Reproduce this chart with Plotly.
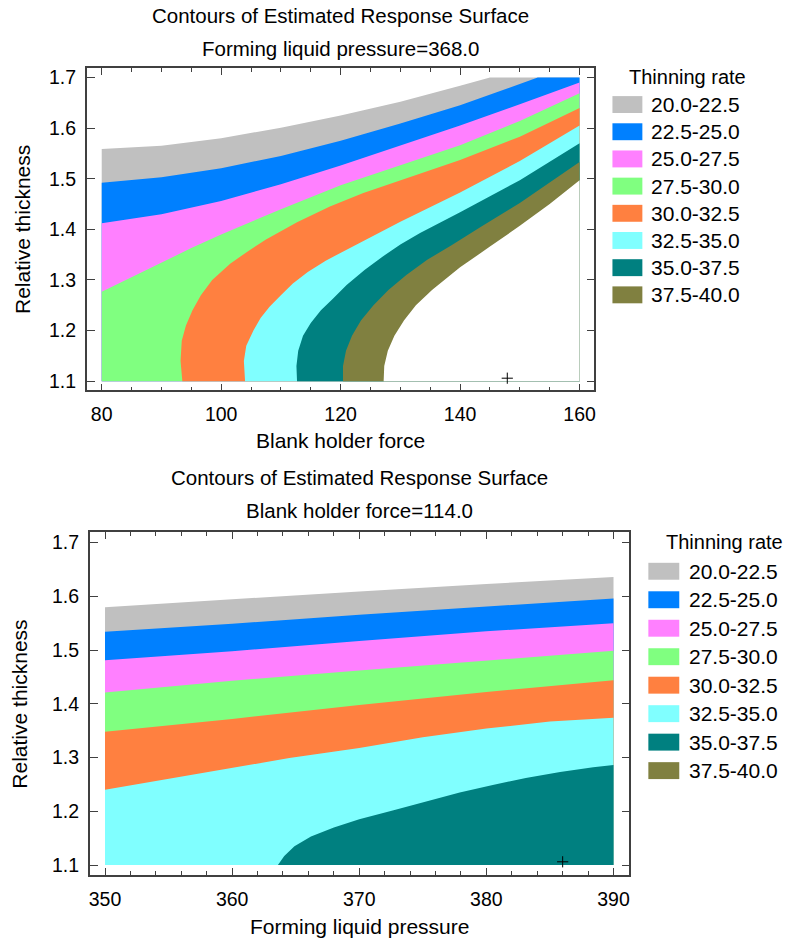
import plotly.graph_objects as go

# ---------------- data ----------------
LEVELS = [20.0, 22.5, 25.0, 27.5, 30.0, 32.5, 35.0, 37.5, 40.0]
BAND_LABELS = ["20.0-22.5", "22.5-25.0", "25.0-27.5", "27.5-30.0",
               "30.0-32.5", "32.5-35.0", "35.0-37.5", "37.5-40.0"]
BAND_COLORS = ["#C0C0C0", "#0080FF", "#FF80FF", "#80FF80",
               "#FF8040", "#80FFFF", "#008080", "#808040"]
ABOVE_COLOR = "#FFFFFF"

# top panel: Blank holder force (x) vs Relative thickness (y), pressure = 368.0
TOP_X_RANGE = [80, 160]
TOP_Y_RANGE = [1.1, 1.7]
top_x_20 = [80, 90, 100, 110, 120, 130, 140, 145]
top_y_20 = [1.559, 1.565, 1.580, 1.601, 1.625, 1.652, 1.684, 1.700]
top_x_225 = [80, 90, 100, 110, 120, 130, 140, 150, 153]
top_y_225 = [1.492, 1.503, 1.521, 1.545, 1.575, 1.609, 1.645, 1.687, 1.700]
top_x_25 = [80, 90, 100, 110, 120, 130, 140, 150, 160]
top_y_25 = [1.412, 1.430, 1.456, 1.489, 1.526, 1.566, 1.605, 1.647, 1.690]
top_x_275 = [80, 85, 90, 95, 100, 110, 120, 130, 140, 150, 160]
top_y_275 = [1.277, 1.306, 1.335, 1.363, 1.390, 1.440, 1.487, 1.527, 1.566, 1.614, 1.669]
top_x_30 = [93.5, 93.2, 93.4, 94.1, 95.2, 96.6, 98.5, 101.5, 104.5, 107.5, 112.7, 118.2,
            123.8, 129.4, 135, 140, 150, 160]
top_y_30 = [1.1, 1.14, 1.18, 1.21, 1.24, 1.27, 1.30, 1.332, 1.357, 1.380, 1.414, 1.445,
            1.472, 1.495, 1.517, 1.537, 1.583, 1.640]
top_x_325 = [104, 103.8, 104.2, 105.4, 106.6, 108.1, 110, 112, 114.5, 117.5, 121, 125,
             130, 140, 150, 160]
top_y_325 = [1.1, 1.14, 1.17, 1.2, 1.225, 1.247, 1.27, 1.293, 1.316, 1.338, 1.36, 1.385,
             1.415, 1.473, 1.535, 1.605]
top_x_35 = [112.7, 112.6, 112.9, 113.7, 115, 116.7, 118.7, 121, 124, 127, 130, 133.3,
            140, 150, 160]
top_y_35 = [1.1, 1.13, 1.16, 1.19, 1.215, 1.24, 1.263, 1.29, 1.32, 1.346, 1.37, 1.393,
            1.434, 1.497, 1.570]
top_x_375 = [120.4, 120.4, 120.9, 121.9, 123.4, 125.5, 128, 131, 134.5, 138.5, 143.5,
             150, 160]
top_y_375 = [1.1, 1.13, 1.16, 1.19, 1.22, 1.25, 1.28, 1.31, 1.34, 1.368, 1.405,
             1.452, 1.533]
top_x_40 = [127.2, 127.3, 127.9, 129, 130.6, 132.6, 135.3, 138.4, 140, 145, 150, 155, 160]
top_y_40 = [1.1, 1.13, 1.16, 1.19, 1.22, 1.25, 1.28, 1.31, 1.325, 1.366, 1.407, 1.45, 1.497]
TOP_DESIGN_X = [147.9]
TOP_DESIGN_Y = [1.106]

# bottom panel: Forming liquid pressure (x) vs Relative thickness (y), force = 114.0
BOT_X_RANGE = [350, 390]
BOT_Y_RANGE = [1.1, 1.7]
bot_x_20 = [350, 360, 370, 380, 390]
bot_y_20 = [1.580, 1.595, 1.609, 1.623, 1.636]
bot_x_225 = [350, 360, 370, 380, 390]
bot_y_225 = [1.534, 1.549, 1.566, 1.581, 1.596]
bot_x_25 = [350, 360, 370, 380, 390]
bot_y_25 = [1.481, 1.498, 1.517, 1.535, 1.550]
bot_x_275 = [350, 360, 370, 380, 390]
bot_y_275 = [1.421, 1.443, 1.462, 1.481, 1.499]
bot_x_30 = [350, 360, 370, 380, 390]
bot_y_30 = [1.348, 1.372, 1.398, 1.422, 1.444]
bot_x_325 = [350, 352.7, 356.6, 360, 364.5, 370, 375, 380, 385, 390]
bot_y_325 = [1.240, 1.251, 1.268, 1.282, 1.299, 1.318, 1.338, 1.354, 1.367, 1.374]
bot_x_35 = [363.6, 364.1, 364.9, 366.2, 368, 370, 372.7, 375.3, 377.9, 380.5, 383.1,
            385.8, 388.4, 390]
bot_y_35 = [1.1, 1.117, 1.135, 1.153, 1.170, 1.185, 1.202, 1.219, 1.235, 1.249, 1.262,
            1.273, 1.282, 1.286]
BOT_DESIGN_X = [386.0]
BOT_DESIGN_Y = [1.106]

TOP_CURVES = [(top_x_20, top_y_20), (top_x_225, top_y_225), (top_x_25, top_y_25),
              (top_x_275, top_y_275), (top_x_30, top_y_30), (top_x_325, top_y_325),
              (top_x_35, top_y_35), (top_x_375, top_y_375), (top_x_40, top_y_40)]
BOT_CURVES = [(bot_x_20, bot_y_20), (bot_x_225, bot_y_225), (bot_x_25, bot_y_25),
              (bot_x_275, bot_y_275), (bot_x_30, bot_y_30), (bot_x_325, bot_y_325),
              (bot_x_35, bot_y_35)]

# ---------------- helpers ----------------
W, H = 787, 941
FONT = "Arial, Liberation Sans, sans-serif"


def px(v):
    return v / W


def py(v):
    return 1 - v / H


def region_at_or_above(cx, cy, xr, yr):
    """Polygon of the area where the response >= level (lower-right side of the curve)."""
    xs, ys = list(cx), list(cy)
    x0, x1 = xr
    y0, y1 = yr
    if ys[-1] >= y1 and xs[-1] < x1:
        xs.append(x1); ys.append(y1)
    xs.append(x1); ys.append(y0)
    if xs[0] <= x0 and ys[0] > y0:
        xs.append(x0); ys.append(y0)
    xs.append(xs[0]); ys.append(ys[0])
    return xs, ys


fig = go.Figure()


def add_panel(curves, xr, yr, xa, ya, dx, dy):
    for k, (cx, cy) in enumerate(curves):
        color = BAND_COLORS[k] if k < len(BAND_COLORS) else ABOVE_COLOR
        xs, ys = region_at_or_above(cx, cy, xr, yr)
        fig.add_trace(go.Scatter(x=xs, y=ys, mode="lines", fill="toself",
                                 fillcolor=color, line=dict(width=0, color=color),
                                 hoverinfo="skip", showlegend=False,
                                 xaxis=xa, yaxis=ya))
    fig.add_trace(go.Scatter(x=dx, y=dy, mode="markers",
                             marker=dict(symbol="cross-thin", size=8,
                                         line=dict(width=1, color="black")),
                             showlegend=False, xaxis=xa, yaxis=ya))


add_panel(TOP_CURVES, TOP_X_RANGE, TOP_Y_RANGE, "x", "y", TOP_DESIGN_X, TOP_DESIGN_Y)
add_panel(BOT_CURVES, BOT_X_RANGE, BOT_Y_RANGE, "x2", "y2", BOT_DESIGN_X, BOT_DESIGN_Y)

AX_COLOR = "#404040"
tickfont = dict(family=FONT, size=19.5, color="black")
common_x = dict(showline=True, linecolor=AX_COLOR, linewidth=1.5, mirror="ticks",
                ticks="inside", ticklen=7, tickwidth=1, tickcolor=AX_COLOR,
                showgrid=False, zeroline=False, tickfont=tickfont,
                ticklabelstandoff=6)
common_y = dict(showline=True, linecolor=AX_COLOR, linewidth=1.5, mirror="ticks",
                ticks="inside", ticklen=8, tickwidth=1, tickcolor=AX_COLOR,
                showgrid=False, zeroline=False, tickfont=tickfont,
                tickformat=".1f", dtick=0.1, tick0=1.1, ticklabelstandoff=5)

fig.update_layout(
    width=W, height=H, margin=dict(l=0, r=0, t=0, b=0),
    paper_bgcolor="white", plot_bgcolor="white", showlegend=False,
    xaxis=dict(domain=[px(86), px(595)], range=[77.5, 162.5], anchor="y",
               tick0=80, dtick=20,
               minor=dict(dtick=5, tick0=80, ticks="inside", ticklen=4,
                          tickcolor=AX_COLOR, showgrid=False),
               **common_x),
    yaxis=dict(domain=[py(390), py(66.7)], range=[1.082, 1.718], anchor="x",
               **common_y),
    xaxis2=dict(domain=[px(89), px(630)], range=[348.8, 391.25], anchor="y2",
                tick0=350, dtick=10,
                minor=dict(dtick=2, tick0=350, ticks="inside", ticklen=4,
                           tickcolor=AX_COLOR, showgrid=False),
                **common_x),
    yaxis2=dict(domain=[py(876.7), py(532.7)], range=[1.0815, 1.719], anchor="x2",
                **common_y),
)

ann = []


def text(t, x, y, size=21, xanchor="center", angle=0):
    ann.append(dict(text=t, x=px(x), y=py(y), xref="paper", yref="paper",
                    xanchor=xanchor, yanchor="middle", showarrow=False,
                    textangle=angle, font=dict(family=FONT, size=size, color="black")))


# titles
text("Contours of Estimated Response Surface", 340.5, 14, size=20.5)
text("Forming liquid pressure=368.0", 340.5, 47, size=20.5)
text("Contours of Estimated Response Surface", 359.5, 478, size=20.5)
text("Blank holder force=114.0", 359.5, 511, size=20.5)
# axis titles
text("Blank holder force", 340.5, 440)
text("Relative thickness", 21, 228, angle=-90)
text("Forming liquid pressure", 359.5, 928)
text("Relative thickness", 19, 704.7, angle=-90)

shapes = []


def legend(title_x, title_y, sw_x0, sw_x1, first_y, step, text_x):
    text("Thinning rate", title_x, title_y, size=20, xanchor="left")
    for i, (lab, col) in enumerate(zip(BAND_LABELS, BAND_COLORS)):
        cy = first_y + step * i
        shapes.append(dict(type="rect", xref="paper", yref="paper",
                           x0=px(sw_x0), x1=px(sw_x1), y0=py(cy + 8.5), y1=py(cy - 8.5),
                           fillcolor=col, line=dict(width=0)))
        text(lab, text_x, cy, xanchor="left")


legend(628, 75, 613, 643, 103, 27.3, 650)
legend(665, 542, 649, 680, 571.7, 28.6, 688)

fig.update_layout(annotations=ann, shapes=shapes)
fig.write_html("out.html")
